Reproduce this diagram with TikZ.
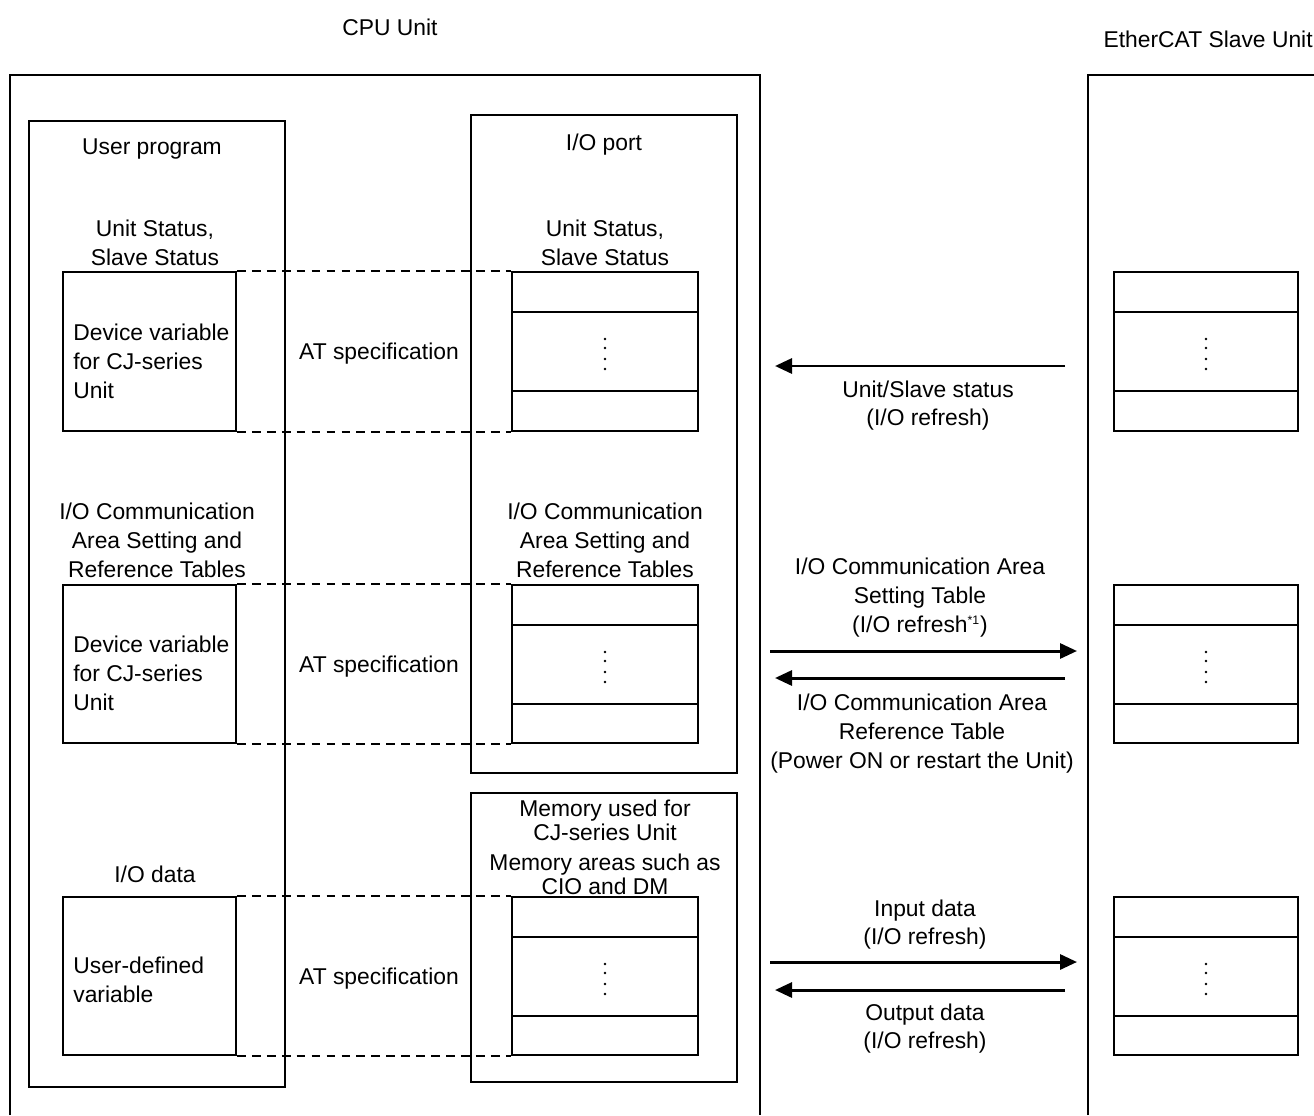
\documentclass[tikz,border=0pt]{standalone}
\usepackage{fontspec}
\setmainfont{Liberation Sans}
\usetikzlibrary{arrows.meta,fit}
\begin{document}
\begin{tikzpicture}[x=0.02cm,y=-0.02cm,
  every node/.style={font=\fontsize{13}{16.4}\selectfont, inner sep=0pt},
  txt/.style={yshift=-0.05cm},
  tight/.style={font=\fontsize{13}{13.6}\selectfont},
  box/.style={draw, line width=1.1pt, inner sep=0pt},
  outerline/.style={draw, line width=0.9pt},
  dashlink/.style={dash pattern=on 5pt off 3.5pt, line width=0.9pt},
  arr/.style={line width=1.7pt, -{Triangle[length=0.34cm,width=0.3cm]}}
]
\useasboundingbox (0,0) rectangle (1314,1115);

% titles
\node[txt] (cpu) at (390,25) {CPU Unit};
\node[txt, anchor=east] (slave) at (1313,37) {EtherCAT Slave Unit};

% outer units (cut by the page edge)
\draw[outerline] (10,1115) -- (10,75) -- (760,75) -- (760,1115);
\draw[outerline] (1088,1115) -- (1088,75) -- (1314,75);

% containers
\node[box, fit={(29,121) (285,1087)}] (up) {};
\node[box, fit={(471,115) (737,773)}] (port) {};
\node[box, fit={(471,793) (737,1082)}] (mem) {};

\node[txt] (uptitle) at (152,147) {User program};
\node[txt] (porttitle) at (604,142) {I/O port};

% left labels
\node[txt, align=center] (ls1) at (155,240) {Unit Status,\\Slave Status};
\node[txt, align=center] (ls2) at (157,538) {I/O Communication\\Area Setting and\\Reference Tables};
\node[txt] (ls3) at (155,872) {I/O data};

% right labels
\node[txt, align=center] (rs1) at (605,240) {Unit Status,\\Slave Status};
\node[txt, align=center] (rs2) at (605,538) {I/O Communication\\Area Setting and\\Reference Tables};
\node[txt, tight, align=center] (rs3a) at (605,818) {Memory used for\\CJ-series Unit};
\node[txt, tight, align=center] (rs3b) at (605,872) {Memory areas such as\\CIO and DM};

% device variable boxes
\node[box, fit={(63,272) (236,431)}] (dv1) {};
\node[box, fit={(63,585) (236,743)}] (dv2) {};
\node[box, fit={(63,897) (236,1055)}] (dv3) {};
\node[txt, anchor=west, align=left] (dvt1) at (73,359) {Device variable\\for CJ-series\\Unit};
\node[txt, anchor=west, align=left] (dvt2) at (73,671) {Device variable\\for CJ-series\\Unit};
\node[txt, anchor=west, align=left] (dvt3) at (73,977) {User-defined\\variable};

% CPU data boxes
\node[box, fit={(512,272) (698,431)}] (cd1) {};
\node[box, fit={(512,585) (698,743)}] (cd2) {};
\node[box, fit={(512,897) (698,1055)}] (cd3) {};
% slave data boxes
\node[box, fit={(1114,272) (1298,431)}] (sd1) {};
\node[box, fit={(1114,585) (1298,743)}] (sd2) {};
\node[box, fit={(1114,897) (1298,1055)}] (sd3) {};

% inner divider lines and dots
\foreach \t/\xa/\xb/\xc in {272/512/698/605, 585/512/698/605, 897/512/698/605,
                            272/1114/1298/1206, 585/1114/1298/1206, 897/1114/1298/1206}{
  \draw[line width=1.1pt] (\xa,\t+40) -- (\xb,\t+40);
  \draw[line width=1.1pt] (\xa,\t+119) -- (\xb,\t+119);
  \foreach \d in {67,76,87,97}{
    \fill (\xc,\t+\d) circle (1.4);
  }
}

% dashed links
\draw[dashlink] (dv1.north east) -- (cd1.north west);
\draw[dashlink] (dv1.south east) -- (cd1.south west);
\draw[dashlink] (dv2.north east) -- (cd2.north west);
\draw[dashlink] (dv2.south east) -- (cd2.south west);
\draw[dashlink] (dv3.north east) -- (cd3.north west);
\draw[dashlink] (dv3.south east) -- (cd3.south west);

\node[txt] (at1) at (379,351) {AT specification};
\node[txt] (at2) at (379,664) {AT specification};
\node[txt] (at3) at (379,976) {AT specification};

% arrows
\coordinate (a1s) at (1065,366); \coordinate (a1e) at (775,366);
\coordinate (a2s) at (770,651);  \coordinate (a2e) at (1077,651);
\coordinate (a3s) at (1065,678); \coordinate (a3e) at (775,678);
\coordinate (a4s) at (770,962);  \coordinate (a4e) at (1077,962);
\coordinate (a5s) at (1065,990); \coordinate (a5e) at (775,990);
\draw[arr] (a1s) -- (a1e);
\draw[arr] (a2s) -- (a2e);
\draw[arr] (a3s) -- (a3e);
\draw[arr] (a4s) -- (a4e);
\draw[arr] (a5s) -- (a5e);

\node[txt, align=center] (l1) at (928,403) {Unit/Slave status\\(I/O refresh)};
\node[txt, align=center] (l2) at (920,595) {I/O Communication Area\\Setting Table\\(I/O refresh\textsuperscript{\fontsize{7}{8}\selectfont *1})};
\node[txt, align=center] (l3) at (922,731) {I/O Communication Area\\Reference Table\\(Power ON or restart the Unit)};
\node[txt, align=center] (l4) at (925,922) {Input data\\(I/O refresh)};
\node[txt, align=center] (l5) at (925,1026) {Output data\\(I/O refresh)};
\end{tikzpicture}
\end{document}
